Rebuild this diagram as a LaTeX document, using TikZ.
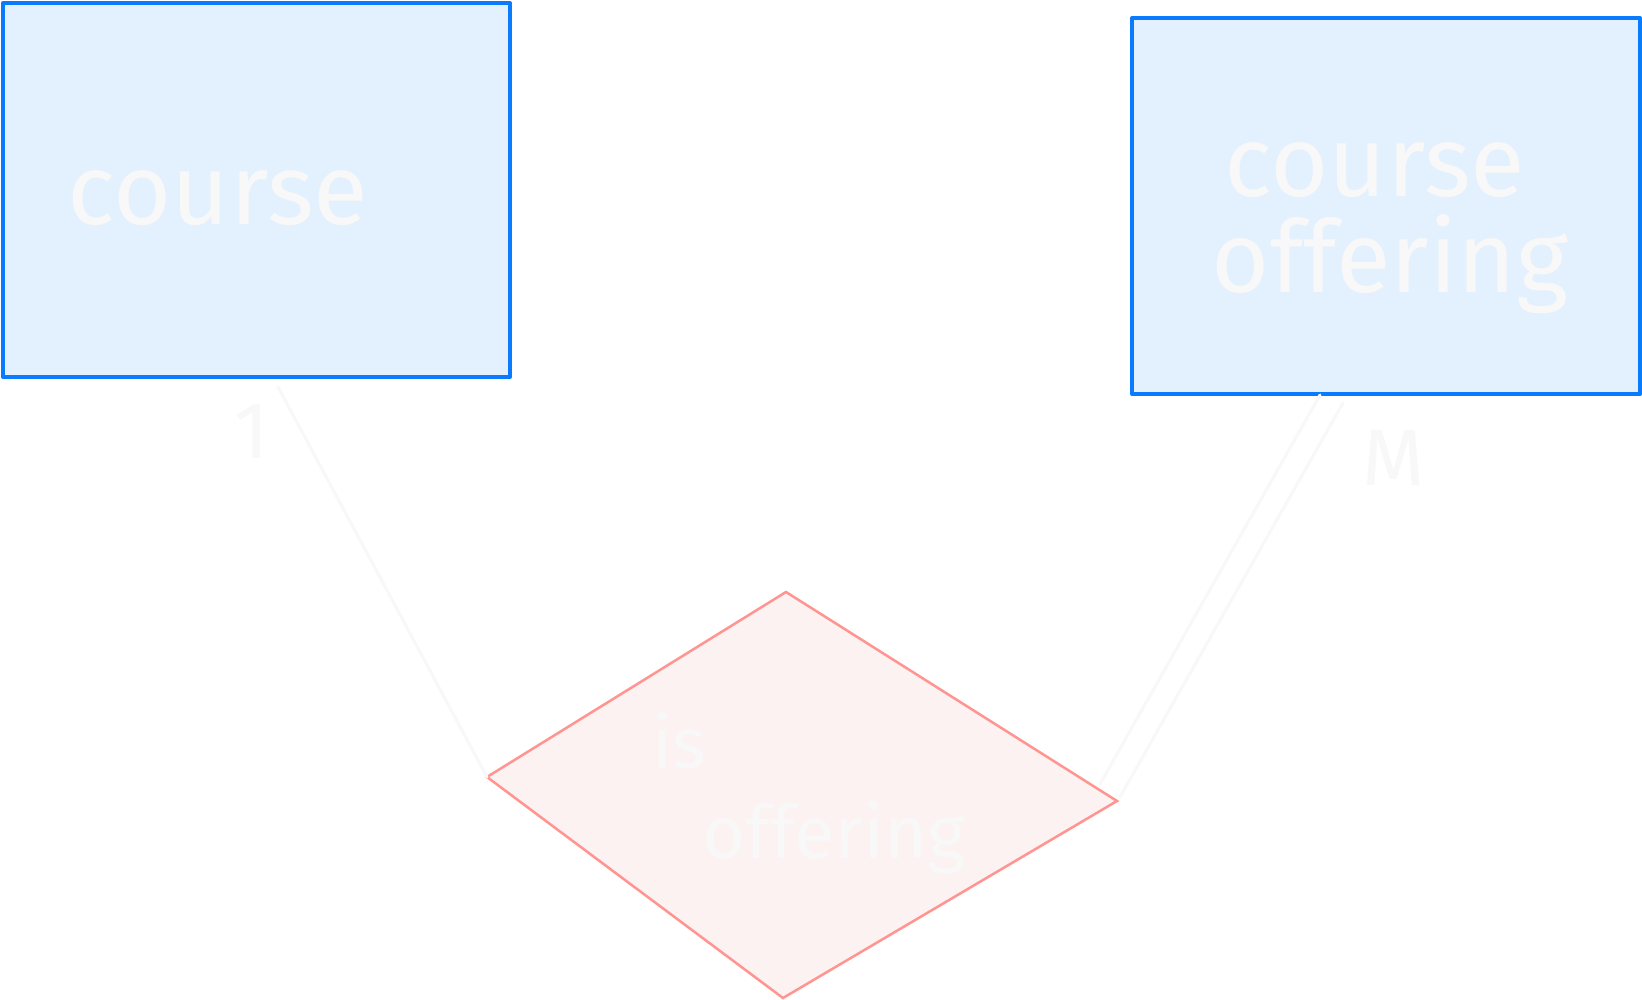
\documentclass[tikz,border=0pt]{standalone}
\usepackage{fontspec}
\setmainfont{Fira Sans}
\definecolor{boxblue}{HTML}{0A7BFF}
\definecolor{boxfill}{HTML}{E3F0FE}
\definecolor{relred}{HTML}{FF9490}
\definecolor{relfill}{HTML}{FDF2F2}
\definecolor{chalk}{HTML}{F8F8F8}
\begin{document}
\begin{tikzpicture}[x=1pt,y=-1pt,
  entity/.style={draw=boxblue, fill=boxfill, line width=4pt, line join=round},
  relation/.style={draw=relred, fill=relfill, line width=2.5pt, line join=miter},
  link/.style={draw=chalk, line width=3pt, line cap=round},
  hand/.style={text=chalk, font=\fontsize{#1}{#1}\selectfont, inner sep=0pt},
]
\useasboundingbox[fill=white] (0,0) rectangle (1642,1000);
% entities
\path[entity] (3,3) rectangle (510,377);
\node[inner sep=0pt, minimum width=507pt, minimum height=374pt] (course) at (256.5,190) {};
\path[entity] (1132,18) rectangle (1640,394);
\node[inner sep=0pt, minimum width=508pt, minimum height=376pt] (offer) at (1386,206) {};
% relationship diamond
\coordinate (dl) at (487,777);
\coordinate (dt) at (786,592);
\coordinate (dr) at (1117,801);
\coordinate (db) at (783,998);
\path[relation] (dl) -- (dt) -- (dr) -- (db) -- cycle;
% connectors
\coordinate (c1) at (278,387);
\coordinate (c2) at (1320,395);
\coordinate (c3) at (1343,403);
\coordinate (d2) at (1100,784);
\coordinate (d3) at (1120,797);
\draw[link] (c1) -- (dl);
\draw[link] (c2) -- (d2);
\draw[link] (c3) -- (d3);
% texts
\node[hand=100pt, anchor=base] (t1) at (218,225) {course};
\node[hand=100pt, anchor=base] (t2a) at (1375,197) {course};
\node[hand=100pt, anchor=base] (t2b) at (1390,293) {offering};
\node[hand=72pt, anchor=base west] (t3a) at (652,768) {is};
\node[hand=74pt, anchor=base] (t3b) at (834,858) {offering};
\node[hand=80pt, anchor=center] (m1) at (252,432) {1};
\node[hand=80pt, anchor=center] (mm) at (1394,458) {M};
\end{tikzpicture}
\end{document}
